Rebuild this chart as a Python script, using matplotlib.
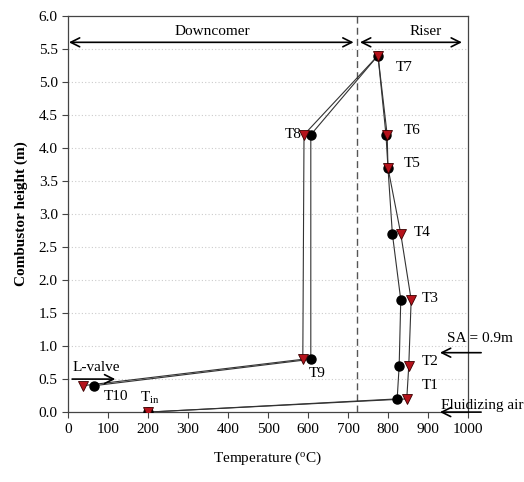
import matplotlib
matplotlib.use('Agg')
import matplotlib.pyplot as plt

plt.rcParams['font.family'] = ['Liberation Serif', 'DejaVu Serif']
plt.rcParams['mathtext.fontset'] = 'custom'
plt.rcParams['mathtext.rm'] = 'Liberation Serif'
plt.rcParams['mathtext.it'] = 'Liberation Serif'

# measured temperatures along the loop (Tin, T1 ... T10)
height = [0.0, 0.2, 0.7, 1.7, 2.7, 3.7, 4.2, 5.4, 4.2, 0.8, 0.4]
temp_a = [200, 823, 828, 832, 811, 800, 795, 775, 607, 607, 65]
temp_b = [200, 847, 852, 858, 832, 800, 798, 775, 590, 587, 37]

point_labels = ['T$_{\\rm in}$', 'T1', 'T2', 'T3', 'T4', 'T5', 'T6', 'T7', 'T8', 'T9', 'T10']
label_pos = [(205, 0.22), (885, 0.40), (885, 0.76), (885, 1.72), (865, 2.72), (840, 3.76),
             (840, 4.26), (820, 5.22), (583, 4.20), (622, 0.58), (120, 0.24)]
label_ha = ['center', 'left', 'left', 'left', 'left', 'left',
            'left', 'left', 'right', 'center', 'center']

fig = plt.figure(figsize=(5.24, 4.82), dpi=100)
ax = fig.add_axes([0.130, 0.145, 0.763, 0.822])

for y in [0.5 * i for i in range(1, 12)]:
    ax.axhline(y, color='#cccccc', lw=0.8, ls=(0, (1, 2)), zorder=0)

ax.plot(temp_a, height, c='#333333', lw=0.8, zorder=2)
ax.plot(temp_b, height, c='#333333', lw=0.8, zorder=2)
ax.plot(temp_a, height, 'o', ms=6.5, mfc='black', mec='black', zorder=3)
ax.plot(temp_b, height, 'v', ms=7, mfc='#b5121b', mec='#3a0000', mew=0.6, zorder=4)

for lab, (x, y), ha in zip(point_labels, label_pos, label_ha):
    ax.text(x, y, lab, fontsize=11, ha=ha, va='center')

# section separator and region arrows
ax.axvline(722, color='#555555', lw=1.0, ls=(0, (5, 3)), zorder=1)
arw = dict(arrowstyle='<->', color='black', lw=1.2, mutation_scale=16, shrinkA=0, shrinkB=0)
ax.annotate('', xy=(2, 5.6), xytext=(714, 5.6), arrowprops=arw)
ax.annotate('', xy=(730, 5.6), xytext=(985, 5.6), arrowprops=arw)
ax.text(360, 5.76, 'Downcomer', fontsize=11, ha='center', va='center')
ax.text(895, 5.76, 'Riser', fontsize=11, ha='center', va='center')

one = dict(arrowstyle='->', color='black', lw=1.2, mutation_scale=16, shrinkA=0, shrinkB=0)
ax.annotate('', xy=(118, 0.5), xytext=(10, 0.5), arrowprops=one)
ax.text(10, 0.68, 'L-valve', fontsize=11, ha='left', va='center')
ax.annotate('', xy=(930, 0.9), xytext=(1033, 0.9), arrowprops=one, annotation_clip=False)
ax.text(947, 1.12, 'SA = 0.9m', fontsize=11, ha='left', va='center', clip_on=False)
ax.annotate('', xy=(930, 0.0), xytext=(1033, 0.0), arrowprops=one, annotation_clip=False)
ax.text(1140, 0.1, 'Fluidizing air', fontsize=11, ha='right', va='center', clip_on=False)

ax.set_xlim(0, 1000)
ax.set_ylim(0, 6)
ax.set_xticks(range(0, 1001, 100))
ax.set_yticks([0.5 * i for i in range(13)])
ax.set_yticklabels(['{:.1f}'.format(0.5 * i) for i in range(13)])
ax.tick_params(direction='out', length=4, labelsize=11, color='#444444')
for s in ax.spines.values():
    s.set_color('#444444')
    s.set_linewidth(0.9)

ax.set_xlabel('Temperature ($^{\\rm o}$C)', fontsize=11, labelpad=10)
ax.set_ylabel('Combustor height (m)', fontsize=11, fontweight='bold', labelpad=8)

fig.savefig('out.png', dpi=100)
